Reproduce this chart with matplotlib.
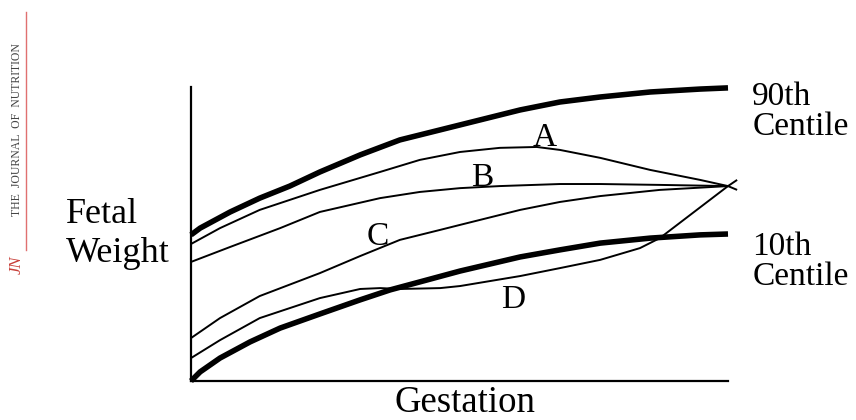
import numpy as np
import matplotlib.pyplot as plt

# values, gestation 0-100, fetal weight 0-100 (arbitrary units)
x_10 = [0, 1.7, 5.4, 11.0, 16.6, 24.0, 31.5, 37.1, 42.6, 50.1, 61.3, 68.7, 76.2, 85.5, 94.8, 100]
y_10 = [0, 3.1, 7.8, 13.3, 18.0, 22.8, 27.6, 31.0, 33.7, 37.4, 42.2, 44.6, 46.9, 48.6, 49.7, 50.0]

x_90 = [0, 1.7, 7.3, 12.8, 18.4, 24.0, 31.5, 38.9, 50.1, 61.3, 68.7, 76.2, 85.5, 94.8, 100]
y_90 = [49.7, 52.0, 57.5, 62.2, 66.3, 71.1, 76.9, 82.0, 87.1, 92.2, 94.9, 96.6, 98.3, 99.3, 99.7]

x_a = [0, 5.4, 12.8, 24.0, 35.2, 42.6, 50.1, 57.5, 64.4, 68.7, 76.2, 85.5, 94.8, 100, 101.7]
y_a = [46.6, 52.0, 58.2, 65.0, 71.1, 75.2, 77.9, 79.3, 79.6, 78.6, 75.9, 71.8, 68.4, 66.3, 65.0]

x_b = [0, 7.3, 16.6, 24.0, 35.2, 42.6, 50.1, 57.5, 68.7, 76.2, 87.3, 100]
y_b = [40.5, 45.6, 52.0, 57.5, 62.2, 64.3, 65.6, 66.3, 67.0, 67.0, 66.7, 66.3]

x_c = [0, 5.4, 12.8, 24.0, 31.5, 38.9, 46.4, 50.1, 61.3, 68.7, 76.2, 87.3, 100]
y_c = [14.6, 21.4, 28.9, 36.7, 42.5, 48.0, 51.4, 53.1, 58.2, 60.9, 62.9, 65.0, 66.3]

x_d = [0, 5.4, 12.8, 24.0, 31.5, 35.2, 38.9, 46.4, 50.1, 61.3, 68.7, 76.2, 83.6, 87.3, 100, 101.7]
y_d = [7.8, 13.9, 21.4, 28.2, 31.3, 31.6, 31.3, 31.6, 32.3, 35.7, 38.4, 41.2, 45.2, 48.6, 66.3, 68.4]

labels = {"A": (65.9, 79.9), "B": (54.2, 66.3), "C": (34.8, 46.3), "D": (60.0, 24.8)}

serif = "Liberation Serif"
W, H = 856, 420

fig = plt.figure(figsize=(8.56, 4.2), dpi=100)
ax = fig.add_axes([191 / W, 1 - 381 / H, (728 - 191) / W, (381 - 87) / H])
ax.set_xlim(0, 100)
ax.set_ylim(0, 100)

for xs, ys in [(x_a, y_a), (x_b, y_b), (x_c, y_c), (x_d, y_d)]:
    ax.plot(xs, ys, color="black", lw=1.4, clip_on=False, solid_capstyle="butt",
            solid_joinstyle="round")
ax.plot(x_90, y_90, color="black", lw=4, clip_on=False, solid_capstyle="butt", solid_joinstyle="round")
ax.plot(x_10, y_10, color="black", lw=4, clip_on=False, solid_capstyle="butt", solid_joinstyle="round")

for k, (lx, ly) in labels.items():
    ax.text(lx, ly, k, ha="center", va="baseline", fontsize=24, family=serif)

ax.text(104.5, 93.9, "90th", fontsize=24, family=serif, va="baseline", clip_on=False)
ax.text(104.5, 83.7, "Centile", fontsize=24, family=serif, va="baseline", clip_on=False)
ax.text(104.5, 42.9, "10th", fontsize=24, family=serif, va="baseline", clip_on=False)
ax.text(104.5, 32.7, "Centile", fontsize=24, family=serif, va="baseline", clip_on=False)

for s in ["top", "right"]:
    ax.spines[s].set_visible(False)
for s in ["left", "bottom"]:
    ax.spines[s].set_linewidth(1.6)
ax.set_xticks([])
ax.set_yticks([])

fig.text(66 / W, 1 - 223 / H, "Fetal", fontsize=26, family=serif, va="baseline")
fig.text(66 / W, 1 - 262 / H, "Weight", fontsize=26, family=serif, va="baseline")
fig.text(465 / W, 1 - 412 / H, "Gestation", fontsize=26.5, family=serif, ha="center", va="baseline")

# journal mark on the left edge
fig.text(17 / W, 1 - 130 / H, "THE  JOURNAL  OF  NUTRITION", rotation=90, fontsize=8.5,
         family=serif, color="#444444", ha="center", va="center")
fig.text(17 / W, 1 - 265 / H, "JN", rotation=90, fontsize=12, family=serif, style="italic",
         color="#c8403a", ha="center", va="center")
fig.add_artist(plt.Line2D([26 / W, 26 / W], [1 - 250 / H, 1 - 12 / H], color="#e07070", lw=1))

fig.savefig("out.png", dpi=100)
